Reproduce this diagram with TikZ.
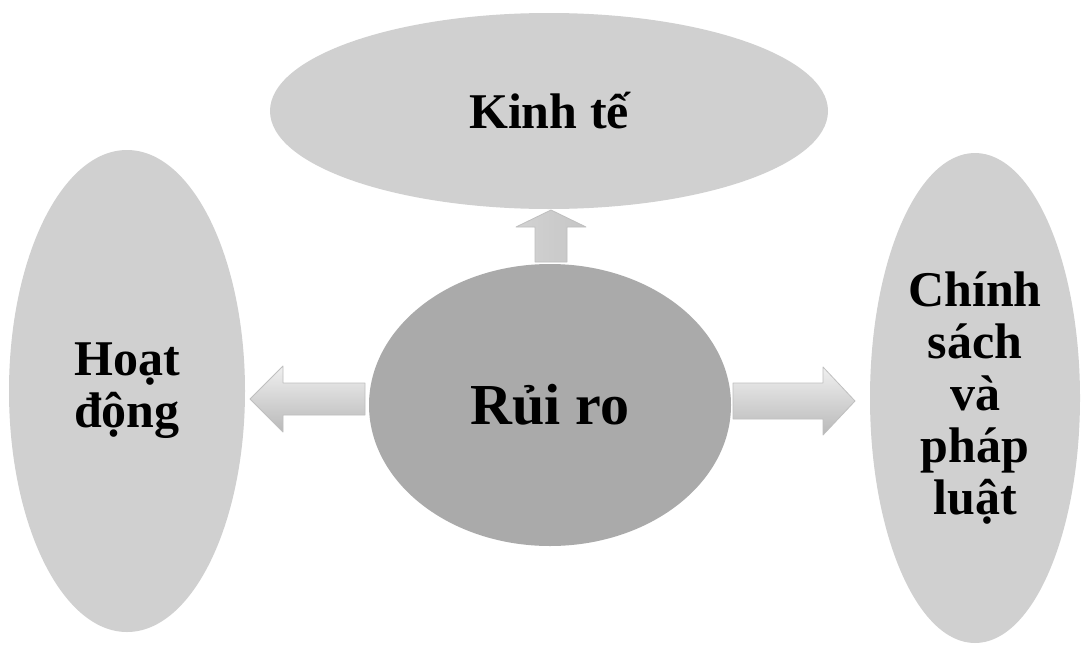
\documentclass[tikz,border=0pt]{standalone}
\usepackage{fontspec}
\setmainfont{Liberation Serif}
\usetikzlibrary{shapes.geometric,calc}
\definecolor{ovalgray}{RGB}{208,208,208}
\definecolor{coregray}{RGB}{170,170,170}
\tikzset{
  oval/.style={ellipse, fill=ovalgray, inner sep=0pt, outer sep=0pt, align=center,
    font=\bfseries\fontsize{50}{52}\selectfont, text=black},
  core/.style={oval, fill=coregray, font=\bfseries\fontsize{58}{60}\selectfont},
  harrow/.style={draw=gray!50, line width=0.8pt, line join=round,
    top color=gray!12, middle color=white, bottom color=gray!55},
  varrow/.style={draw=gray!50, line width=0.8pt, line join=round,
    left color=gray!35, middle color=white, right color=gray!45}
}
\begin{document}
\begin{tikzpicture}[x=1pt,y=-1pt]
\useasboundingbox (0,0) rectangle (1081,645);
\fill[white] (0,0) rectangle (1081,645);

\node[oval, minimum width=558pt, minimum height=196pt] (econ) at (549,111) {Kinh tế};
\node[oval, minimum width=236pt, minimum height=482pt] (ops) at (127,391) {Hoạt\\động};
\node[oval, minimum width=210pt, minimum height=490pt] (law) at (975,398) {Chính\\sách\\và\\pháp\\luật};
\node[core, minimum width=362pt, minimum height=282pt] (risk) at (550,405) {Rủi ro};

% left arrow: risk -> ops
\coordinate (lS) at ($(risk.west)+(-4,-6)$);
\coordinate (lT) at ($(ops.east)+(5,8)$);
\path[harrow] let \p1=(lT), \p2=(lS) in
  (\x2,\y1+16pt) -- (\x1+33pt,\y1+16pt) -- (\x1+33pt,\y1+33pt) -- (\x1,\y1)
  -- (\x1+33pt,\y1-33pt) -- (\x1+33pt,\y1-16pt) -- (\x2,\y1-16pt) -- cycle;

% right arrow: risk -> law
\coordinate (rS) at ($(risk.east)+(2,-4)$);
\coordinate (rT) at ($(law.west)+(-15,3)$);
\path[harrow] let \p1=(rT), \p2=(rS) in
  (\x2,\y1+18pt) -- (\x1-32pt,\y1+18pt) -- (\x1-32pt,\y1+34pt) -- (\x1,\y1)
  -- (\x1-32pt,\y1-34pt) -- (\x1-32pt,\y1-18pt) -- (\x2,\y1-18pt) -- cycle;

% up arrow: risk -> econ
\coordinate (uS) at ($(risk.north)+(1,-2)$);
\coordinate (uT) at ($(econ.south)+(2,1)$);
\path[varrow] let \p1=(uT), \p2=(uS) in
  (\x1-16pt,\y2) -- (\x1-16pt,\y1-17pt) -- (\x1-35pt,\y1-17pt) -- (\x1,\y1)
  -- (\x1+35pt,\y1-17pt) -- (\x1+16pt,\y1-17pt) -- (\x1+16pt,\y2) -- cycle;
\end{tikzpicture}
\end{document}
